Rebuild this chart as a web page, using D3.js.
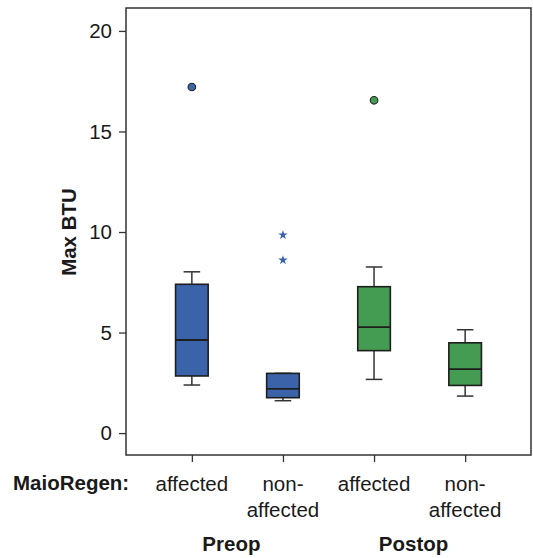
<!DOCTYPE html>
<html><head><meta charset="utf-8">
<script src="https://cdn.jsdelivr.net/npm/d3@7"></script>
<style>body{margin:0;background:#fff}svg{display:block}text{font-family:"Liberation Sans",Arial,sans-serif;fill:#1a1a1a}</style>
</head><body><svg id="c" width="533" height="558"></svg>
<script>
const categories = ["affected", "non-affected", "affected", "non-affected"];
const groups = ["Preop", "Preop", "Postop", "Postop"];
const whiskerLow = [2.39, 1.61, 2.67, 1.84];
const q1 = [2.84, 1.76, 4.10, 2.37];
const median = [4.63, 2.20, 5.27, 3.18];
const q3 = [7.40, 2.97, 7.28, 4.49];
const whiskerHigh = [8.02, 2.97, 8.26, 5.14];
const outlierIndex = [0, 2];
const outlierValue = [17.21, 16.55];
const starIndex = [1, 1];
const starValue = [9.85, 8.60];
const yTicks = [0, 5, 10, 15, 20];
const groupNames = ["Preop", "Postop"];
const colors = ["#3b63a9", "#3b63a9", "#449b52", "#449b52"];

const svg = d3.select("#c");
const L = 126, R = 531, T = 8, B = 455;
const x = d3.scalePoint().domain(d3.range(categories.length)).range([L, R]).padding(0.723);
const y = d3.scaleLinear().domain([-1.09, 21.14]).range([B, T]);

// frame
svg.append("rect").attr("x", L).attr("y", T).attr("width", R - L).attr("height", B - T)
  .attr("fill", "none").attr("stroke", "#333").attr("stroke-width", 1.5);

// y axis
const ya = svg.append("g").attr("transform", `translate(${L},0)`)
  .call(d3.axisLeft(y).tickValues(yTicks).tickSize(7).tickPadding(7));
ya.select(".domain").remove();
ya.selectAll("line").attr("stroke", "#333").attr("stroke-width", 1.3);
ya.selectAll("text").style("font-size", "20.5px").attr("fill", "#1a1a1a");

// x axis ticks
const xa = svg.append("g").attr("transform", `translate(0,${B})`)
  .call(d3.axisBottom(x).tickSize(7).tickFormat(""));
xa.select(".domain").remove();
xa.selectAll("line").attr("stroke", "#333").attr("stroke-width", 1.3);

// y label
svg.append("text").attr("transform", "translate(76,232) rotate(-90)")
  .attr("text-anchor", "middle").style("font-size", "20.5px").style("font-weight", "bold").text("Max BTU");

const bw = 32.6, cw = 16.6;
const idx = d3.range(categories.length);
const g = svg.append("g");
// whiskers
idx.forEach(i => {
  const cx = x(i);
  g.append("line").attr("x1", cx).attr("x2", cx).attr("y1", y(whiskerHigh[i])).attr("y2", y(q3[i]))
    .attr("stroke", "#333").attr("stroke-width", 1.5);
  g.append("line").attr("x1", cx).attr("x2", cx).attr("y1", y(q1[i])).attr("y2", y(whiskerLow[i]))
    .attr("stroke", "#333").attr("stroke-width", 1.5);
  [whiskerHigh[i], whiskerLow[i]].forEach(v => {
    g.append("line").attr("x1", cx - cw / 2).attr("x2", cx + cw / 2).attr("y1", y(v)).attr("y2", y(v))
      .attr("stroke", "#333").attr("stroke-width", 1.5);
  });
  g.append("rect").attr("x", cx - bw / 2).attr("width", bw).attr("y", y(q3[i])).attr("height", y(q1[i]) - y(q3[i]))
    .attr("fill", colors[i]).attr("stroke", "#1e1e1e").attr("stroke-width", 1.6);
  g.append("line").attr("x1", cx - bw / 2).attr("x2", cx + bw / 2).attr("y1", y(median[i])).attr("y2", y(median[i]))
    .attr("stroke", "#1e1e1e").attr("stroke-width", 1.8);
});
// outliers
outlierIndex.forEach((i, k) => {
  g.append("circle").attr("cx", x(i)).attr("cy", y(outlierValue[k])).attr("r", 3.8)
    .attr("fill", colors[i]).attr("stroke", "#222").attr("stroke-width", 1.1);
});
starIndex.forEach((i, k) => {
  g.append("path").attr("d", d3.symbol(d3.symbolStar, 28)())
    .attr("transform", `translate(${x(i)},${y(starValue[k])})`).attr("fill", colors[i]);
});

// category labels
svg.append("text").attr("x", 13).attr("y", 490).style("font-size", "20.5px").style("font-weight", "bold").text("MaioRegen:");
idx.forEach(i => {
  const parts = categories[i] === "non-affected" ? ["non-", "affected"] : [categories[i]];
  parts.forEach((p, j) => {
    svg.append("text").attr("x", x(i)).attr("y", 491 + j * 25.5).attr("text-anchor", "middle")
      .style("font-size", "20.5px").text(p);
  });
});
groupNames.forEach(name => {
  const ids = idx.filter(i => groups[i] === name);
  const cx = d3.mean(ids, i => x(i)) - 6;
  svg.append("text").attr("x", cx).attr("y", 551).attr("text-anchor", "middle")
    .style("font-size", "20.5px").style("font-weight", "bold").text(name);
});
</script></body></html>
